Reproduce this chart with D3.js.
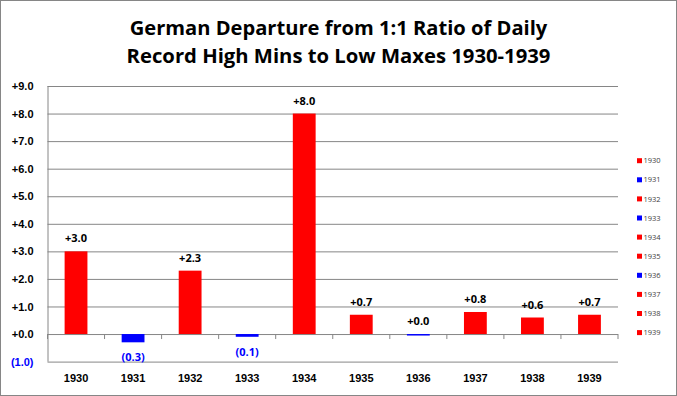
<!DOCTYPE html>
<html>
<head>
<meta charset="utf-8">
<script src="https://cdn.jsdelivr.net/npm/d3@7"></script>
<style>
  body { margin: 0; background: #fff; }
  svg { display: block; font-family: "Open Sans", sans-serif; }
</style>
</head>
<body>
<svg id="chart"></svg>
<script>
// data
const years = ["1930", "1931", "1932", "1933", "1934", "1935", "1936", "1937", "1938", "1939"];
const departures = [3.0, -0.3, 2.3, -0.1, 8.0, 0.7, 0.0, 0.8, 0.6, 0.7];
const yTicks = [-1, 0, 1, 2, 3, 4, 5, 6, 7, 8, 9];
const titleLines = ["German Departure from 1:1 Ratio of Daily", "Record High Mins to Low Maxes 1930-1939"];

const width = 677, height = 396;
const plot = { left: 47.5, right: 618, top: 86, bottom: 361.6 };
const RED = "#ff0000", BLUE = "#0000ff", GRID = "#868686";

const svg = d3.select("#chart").attr("width", width).attr("height", height);

// outer frame
svg.append("rect")
  .attr("x", 0.5).attr("y", 0.5)
  .attr("width", width - 1).attr("height", height - 1)
  .attr("fill", "#fff").attr("stroke", GRID);

const x = d3.scaleBand().domain(years).range([plot.left, plot.right]).padding(0);
const y = d3.scaleLinear().domain([-1, 9]).range([plot.bottom, plot.top]);

const fmt = d => d < 0 ? `(${Math.abs(d).toFixed(1)})` : `+${d.toFixed(1)}`;
const colorOf = d => d > 0 ? RED : BLUE;

// title, squeezed to the width Calibri gives in the original
const title = svg.append("g").attr("class", "title");
titleLines.forEach((line, i) => {
  const t = title.append("text")
    .attr("x", width / 2)
    .attr("y", 35 + i * 28)
    .attr("text-anchor", "middle")
    .style("font-size", "22px")
    .style("font-weight", "bold")
    .attr("fill", "#000")
    .text(line);
  const target = i === 0 ? 418 : 424;
  const w = t.node().getComputedTextLength();
  t.style("font-size", (22 * target / w).toFixed(2) + "px");
});

// y axis + gridlines
const yAxis = svg.append("g")
  .attr("transform", `translate(${plot.left},0)`)
  .call(d3.axisLeft(y)
    .tickValues(yTicks)
    .tickSize(-(plot.right - plot.left))
    .tickPadding(14)
    .tickFormat(fmt));
yAxis.select(".domain").attr("stroke", GRID).attr("d", `M0.5,${plot.top}V${plot.bottom}`);
yAxis.selectAll(".tick line").attr("stroke", GRID);
yAxis.selectAll(".tick text")
  .style("font-size", "11px")
  .style("font-weight", "bold")
  .attr("fill", d => d < 0 ? BLUE : "#000");

// category boundary ticks on the zero line
svg.append("g").selectAll("line")
  .data(d3.range(years.length + 1))
  .join("line")
  .attr("x1", i => plot.left + i * x.step())
  .attr("x2", i => plot.left + i * x.step())
  .attr("y1", y(0))
  .attr("y2", y(0) + 5)
  .attr("stroke", GRID);

// category labels
const xAxis = svg.append("g")
  .attr("transform", `translate(0,${plot.bottom})`)
  .call(d3.axisBottom(x).tickSize(0).tickPadding(13));
xAxis.select(".domain").remove();
xAxis.selectAll(".tick text")
  .style("font-size", "11px")
  .style("font-weight", "bold")
  .attr("fill", "#000");

// bars
const barW = x.bandwidth() * 0.4;
const bars = svg.append("g").selectAll("g")
  .data(years.map((yr, i) => ({ year: yr, value: departures[i] })))
  .join("g");

bars.append("rect")
  .attr("x", d => x(d.year) + (x.bandwidth() - barW) / 2)
  .attr("width", barW)
  .attr("y", d => d.value > 0 ? y(d.value) : y(0))
  .attr("height", d => Math.max(1.5, Math.abs(y(d.value) - y(0))))
  .attr("fill", d => colorOf(d.value));

// value labels
bars.append("text")
  .attr("x", d => x(d.year) + x.bandwidth() / 2)
  .attr("y", d => d.value >= 0 ? y(d.value) - 9 : y(d.value) + 19)
  .attr("text-anchor", "middle")
  .style("font-size", "11px")
  .style("font-weight", "bold")
  .attr("fill", d => d.value < 0 ? BLUE : "#000")
  .text(d => fmt(d.value));

// legend
const legend = svg.append("g").selectAll("g")
  .data(years.map((yr, i) => ({ year: yr, value: departures[i] })))
  .join("g")
  .attr("transform", (d, i) => `translate(637,${160.7 + i * 19.1})`);
legend.append("rect")
  .attr("x", 0).attr("y", -2.5)
  .attr("width", 5).attr("height", 5)
  .attr("fill", d => colorOf(d.value));
legend.append("text")
  .attr("x", 6.5).attr("y", 2.6)
  .style("font-size", "7.5px")
  .attr("fill", "#404040")
  .text(d => d.year);
</script>
</body>
</html>
